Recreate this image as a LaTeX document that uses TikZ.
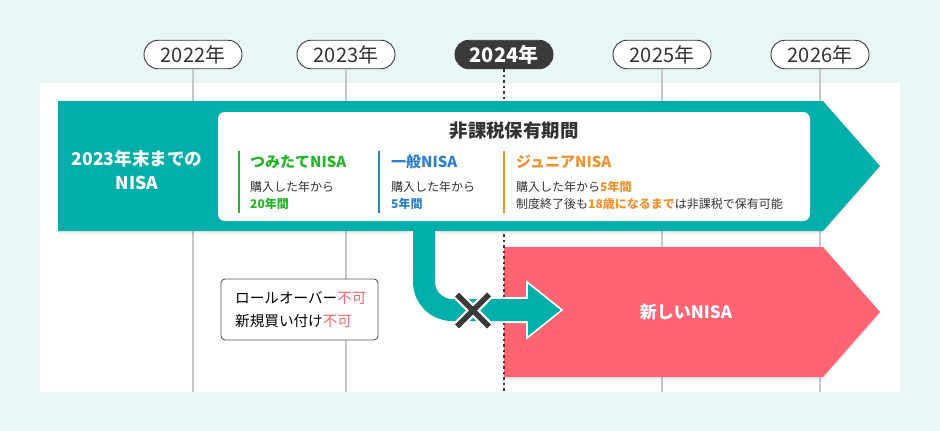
\documentclass[tikz,border=0pt]{standalone}
\usepackage{fontspec}
\setmainfont{Noto Sans CJK JP}
\usetikzlibrary{shadows}
\definecolor{bg}{HTML}{EAF6F6}
\definecolor{tealc}{HTML}{00AFA9}
\definecolor{pinkc}{HTML}{FF6472}
\definecolor{greenc}{HTML}{22B525}
\definecolor{bluec}{HTML}{2C7FCC}
\definecolor{orangec}{HTML}{F2922F}
\definecolor{darkc}{HTML}{3A3A3A}
\definecolor{textc}{HTML}{333333}
\definecolor{gridc}{HTML}{C6C6C6}
\tikzset{
  pill/.style={draw=darkc, line width=0.9pt, fill=white, rounded corners=14pt,
    minimum width=98pt, minimum height=28.5pt, inner sep=0pt, text=textc,
    font=\fontsize{20}{22}\selectfont},
  pillnow/.style={pill, fill=darkc, text=white, font=\fontsize{20}{22}\selectfont\bfseries},
  gridline/.style={gridc, line width=2pt},
  nowline/.style={darkc, line width=2pt, dash pattern=on 2.5pt off 3pt},
  colbar/.style={line width=2.5pt},
  colhead/.style={anchor=west, inner sep=0pt, font=\fontsize{15}{18}\selectfont\bfseries},
  small/.style={anchor=west, inner sep=0pt, text=textc, font=\fontsize{12}{14}\selectfont},
  notetext/.style={anchor=west, inner sep=0pt, text=black, font=\fontsize{14.6}{18}\selectfont},
  bigwhite/.style={text=white, inner sep=0pt, align=center, font=\fontsize{17}{24}\selectfont\bfseries},
  softshadow/.style={drop shadow={opacity=0.13, shadow xshift=0pt, shadow yshift=-2.5pt}}
}
\begin{document}
\begin{tikzpicture}[x=1pt,y=-1pt]
\useasboundingbox (0,0) rectangle (940,431);
\fill[bg] (0,0) rectangle (940,431);
\fill[white] (40,83) rectangle (900,392);

% year pills
\node[pill] (y2022) at (193,54.5) {2022年};
\node[pill] (y2023) at (346,54.5) {2023年};
\node[pillnow] (y2024) at (504,54.5) {2024年};
\node[pill] (y2025) at (662,54.5) {2025年};
\node[pill] (y2026) at (820,54.5) {2026年};
\coordinate (e2022) at (193,392);
\coordinate (e2023) at (346,392);
\coordinate (e2024) at (504,392);
\coordinate (e2025) at (662,392);
\coordinate (e2026) at (820,392);
\draw[gridline] (y2022.south) -- (e2022);
\draw[gridline] (y2023.south) -- (e2023);
\draw[gridline] (y2025.south) -- (e2025);
\draw[gridline] (y2026.south) -- (e2026);

% new NISA arrow
\path[fill=pinkc, softshadow] (504,247) -- (823,247) -- (880,312) -- (823,377) -- (504,377) -- cycle;
\node[bigwhite] (newnisa) at (686,312) {新しいNISA};

% now line
\draw[nowline] (y2024.south) -- (e2024);

% old NISA arrow
\path[fill=tealc, softshadow] (58,101) -- (823,101) -- (880,166) -- (823,231) -- (58,231) -- cycle;
\node[bigwhite, font=\fontsize{17.6}{24}\selectfont\bfseries] (oldnisa) at (137,170) {2023年末までの\\NISA};

% inner white box
\fill[white, rounded corners=7pt] (218,112) rectangle (810,221);
\node[text=textc, inner sep=0pt, font=\fontsize{18.4}{20}\selectfont\bfseries] (title) at (514,131) {非課税保有期間};

\draw[colbar, greenc] (239,151) -- (239,213);
\node[colhead, text=greenc] (tsumi) at (250,162) {つみたてNISA};
\node[small] (tsumi1) at (250,187) {購入した年から};
\node[small, text=greenc, font=\fontsize{12}{14}\selectfont\bfseries] (tsumi2) at (250,204) {20年間};

\draw[colbar, bluec] (379,151) -- (379,213);
\node[colhead, text=bluec] (ippan) at (391,162) {一般NISA};
\node[small] (ippan1) at (391,187) {購入した年から};
\node[small, text=bluec, font=\fontsize{12}{14}\selectfont\bfseries] (ippan2) at (391,204) {5年間};

\draw[colbar, orangec] (504,151) -- (504,213);
\node[colhead, text=orangec] (junior) at (516,162) {ジュニアNISA};
\node[small] (junior1) at (516,187) {購入した年から\textcolor{orangec}{\bfseries 5年間}};
\node[small] (junior2) at (516,204) {制度終了後も\textcolor{orangec}{\bfseries 18歳になるまで}は非課税で保有可能};

% rollover connector
\coordinate (oldout) at (424,231);
\coordinate (bend) at (424,310);
\coordinate (headbase) at (529,310);
\draw[white, line width=26pt, rounded corners=28pt] (oldout) -- (bend) -- (headbase);
\filldraw[fill=tealc, draw=white, line width=1.6pt, drop shadow={opacity=0.18, shadow xshift=1.5pt, shadow yshift=-2.5pt}] (527,282) -- (562,310) -- (527,338) -- cycle;
\draw[tealc, line width=22pt, rounded corners=28pt] (oldout) -- (bend) -- (headbase);

% cross
\coordinate (xc) at (473,310.5);
\draw[white, line width=10pt, line cap=round] ([shift={(-16,-16)}]xc) -- ([shift={(16,16)}]xc) ([shift={(-16,16)}]xc) -- ([shift={(16,-16)}]xc);
\draw[darkc, line width=5.5pt] ([shift={(-16,-16)}]xc) -- ([shift={(16,16)}]xc) ([shift={(-16,16)}]xc) -- ([shift={(16,-16)}]xc);

% note
\draw[darkc!85, line width=0.9pt, fill=white, rounded corners=4pt] (221,279) rectangle (378,340);
\node[notetext] (note1) at (235,298) {ロールオーバー\textcolor{pinkc}{不可}};
\node[notetext] (note2) at (235,321) {新規買い付け\textcolor{pinkc}{不可}};
\end{tikzpicture}
\end{document}
